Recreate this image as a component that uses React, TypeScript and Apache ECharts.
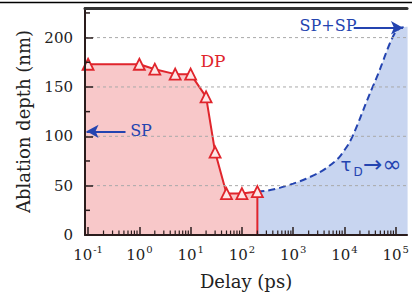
import React, { useEffect, useRef } from "react";
import * as echarts from "echarts";

// DP (double pulse) measured ablation depth
const dpDelay = [0.1, 1, 2, 5, 10, 20, 30, 50, 100, 200]; // ps
const dpDepth = [173, 173, 168, 163, 163, 140, 84, 42, 42, 44]; // nm
const dpLeftDepth = 173;

// SP+SP model curve (tau_D -> infinity)
const spDelay = [200, 316, 562, 1000, 1780, 3160, 4470, 6310, 7940, 10000, 12600, 15800, 20000, 25100, 31600, 39800, 50100, 63100, 79400, 100000, 126000, 170000];
const spDepth = [44, 45, 48, 52, 57, 63, 68, 74, 79, 86, 94, 105, 118, 131, 144, 156, 169, 183, 196, 206, 210, 211];

const xMajorExp = [-1, 0, 1, 2, 3, 4, 5];
const yMajor = [0, 50, 100, 150, 200];
const yMinor = [25, 75, 125, 175, 225];
const gridValues = [50, 100, 150, 200];
const spLevel = 105;
const spspLevel = 210;

const X_MIN = -1.06;
const X_MAX = 5.22;
const SERIF = "DejaVu Serif";
const SANS = "DejaVu Sans";
const RED = "#e0252c";
const BLUE = "#2444b0";
const TICK = "#2a1c1c";

const lg = (v: number) => Math.log10(v);

export default function App() {
  const ref = useRef<HTMLDivElement>(null);
  useEffect(() => {
    if (!ref.current) return;
    const chart = echarts.init(ref.current, undefined, { renderer: "svg" });

    const xMinor: number[] = [];
    for (let e = -1; e <= 4; e++) for (let k = 2; k <= 9; k++) xMinor.push(lg(k * Math.pow(10, e)));

    const redData: any[] = [{ value: [X_MIN, dpLeftDepth], symbol: "none" }];
    dpDelay.forEach((d, i) => redData.push([lg(d), dpDepth[i]]));
    redData.push({ value: [lg(dpDelay[dpDelay.length - 1]), 0], symbol: "none" });

    const blueData = spDelay.map((d, i) => [lg(d), spDepth[i]]);

    chart.setOption({
      animation: false,
      grid: { left: 85, right: 0, top: 8, bottom: 65 },
      xAxis: [
        {
          type: "value",
          min: X_MIN,
          max: X_MAX,
          position: "bottom",
          z: 10,
          splitLine: { show: false },
          axisLine: { onZero: false, lineStyle: { color: TICK, width: 2 } },
          axisTick: { inside: true, length: 8, customValues: xMajorExp, lineStyle: { color: TICK, width: 1.5 } },
          axisLabel: {
            customValues: xMajorExp,
            margin: 9,
            formatter: (v: number) => `{b|10}{s|${Math.round(v)}}`,
            rich: {
              b: { fontFamily: SERIF, fontSize: 15, color: "#222", lineHeight: 18, verticalAlign: "bottom" },
              s: { fontFamily: SERIF, fontSize: 10, color: "#222", lineHeight: 10, verticalAlign: "top", padding: [0, 0, 0, 1] },
            },
          },
          name: "Delay (ps)",
          nameLocation: "middle",
          nameGap: 37,
          nameTextStyle: { fontFamily: SERIF, fontSize: 18, color: "#222" },
        },
        {
          type: "value",
          min: X_MIN,
          max: X_MAX,
          position: "top",
          z: 10,
          splitLine: { show: false },
          axisLine: { onZero: false, lineStyle: { color: "#333", width: 3 } },
          axisLabel: { show: false },
          axisTick: { show: false },
        },
      ],
      yAxis: [
        {
          type: "value",
          min: 0,
          max: 230,
          position: "left",
          z: 10,
          splitLine: { show: false },
          axisLine: { onZero: false, lineStyle: { color: TICK, width: 2 } },
          axisTick: { inside: true, length: 8, customValues: yMajor, lineStyle: { color: TICK, width: 1.5 } },
          axisLabel: { customValues: yMajor, margin: 12, fontFamily: SERIF, fontSize: 15, color: "#222" },
          name: "Ablation depth (nm)",
          nameLocation: "middle",
          nameGap: 53,
          nameTextStyle: { fontFamily: SERIF, fontSize: 18, color: "#222" },
        },
      ],
      series: [
        {
          type: "line",
          data: blueData,
          smooth: 0.3,
          symbol: "none",
          lineStyle: { color: BLUE, width: 2, type: [7, 4] },
          areaStyle: { color: "#c8d5f0", opacity: 1 },
          z: 2,
        },
        {
          type: "line",
          data: redData,
          symbol: "triangle",
          symbolSize: 11,
          itemStyle: { color: "#fde6e6", borderColor: RED, borderWidth: 1.8 },
          lineStyle: { color: RED, width: 2 },
          areaStyle: { color: "#f8c8c9", opacity: 1 },
          z: 3,
        },
        {
          // dashed horizontal grid lines drawn over the fills
          type: "custom",
          silent: true,
          z: 4,
          data: gridValues.map((v) => [X_MIN, v]),
          encode: { x: 0, y: 1 },
          renderItem: (params: any, api: any) => {
            const cs = params.coordSys;
            const p = api.coord([api.value(0), api.value(1)]);
            return {
              type: "line",
              shape: { x1: cs.x, y1: p[1], x2: cs.x + cs.width, y2: p[1] },
              style: { stroke: "#a9a9a9", lineWidth: 1, lineDash: [3, 3] },
            };
          },
        },
        {
          // minor x ticks (2..9 of each decade)
          type: "custom",
          silent: true,
          z: 6,
          data: xMinor.map((v) => [v, 0]),
          encode: { x: 0, y: 1 },
          renderItem: (params: any, api: any) => {
            const p = api.coord([api.value(0), 0]);
            return {
              type: "line",
              shape: { x1: p[0], y1: p[1], x2: p[0], y2: p[1] - 4.5 },
              style: { stroke: TICK, lineWidth: 1.2 },
            };
          },
        },
        {
          // minor y ticks
          type: "custom",
          silent: true,
          z: 6,
          data: yMinor.map((v) => [X_MIN, v]),
          encode: { x: 0, y: 1 },
          renderItem: (params: any, api: any) => {
            const cs = params.coordSys;
            const p = api.coord([api.value(0), api.value(1)]);
            return {
              type: "line",
              shape: { x1: cs.x, y1: p[1], x2: cs.x + 5, y2: p[1] },
              style: { stroke: TICK, lineWidth: 1.5 },
            };
          },
        },
        {
          type: "line",
          data: [[X_MIN, 0], [X_MAX, 0]],
          symbol: "none",
          lineStyle: { opacity: 0 },
          z: 5,
          silent: true,
          markLine: {
            silent: true,
            symbol: ["none", "arrow"],
            symbolSize: [10, 12],
            label: { show: false },
            lineStyle: { color: BLUE, width: 2.2, type: "solid" },
            data: [
              [{ coord: [-0.27, spLevel] }, { coord: [-1.03, spLevel] }],
              [{ coord: [4.18, spspLevel] }, { coord: [5.14, spspLevel] }],
            ],
          },
        },
      ],
      graphic: [
        { type: "line", shape: { x1: 0, y1: 2.5, x2: 412, y2: 2.5 }, style: { stroke: "#000", lineWidth: 1.5 } },
        { type: "text", x: 213, y: 61, style: { text: "DP", fill: RED, font: `17px '${SERIF}'`, align: "center", verticalAlign: "middle" }, z: 10 },
        { type: "text", x: 141, y: 130, style: { text: "SP", fill: BLUE, font: `16px '${SERIF}'`, align: "center", verticalAlign: "middle" }, z: 10 },
        { type: "text", x: 328, y: 25, style: { text: "SP+SP", fill: BLUE, font: `16px '${SERIF}'`, align: "center", verticalAlign: "middle" }, z: 10 },
        { type: "text", x: 346, y: 164, style: { text: "τ", fill: BLUE, font: `18px '${SANS}'`, align: "center", verticalAlign: "middle" }, z: 10 },
        { type: "text", x: 358, y: 172, style: { text: "D", fill: BLUE, font: `12px '${SANS}'`, align: "center", verticalAlign: "middle" }, z: 10 },
        { type: "text", x: 363, y: 164, style: { text: "→∞", fill: BLUE, font: `23px '${SANS}'`, align: "left", verticalAlign: "middle" }, z: 10 },
      ],
    });
    return () => chart.dispose();
  }, []);
  return <div ref={ref} style={{ position: "fixed", left: 0, top: 0, width: 412, height: 300, background: "#fff" }} />;
}
